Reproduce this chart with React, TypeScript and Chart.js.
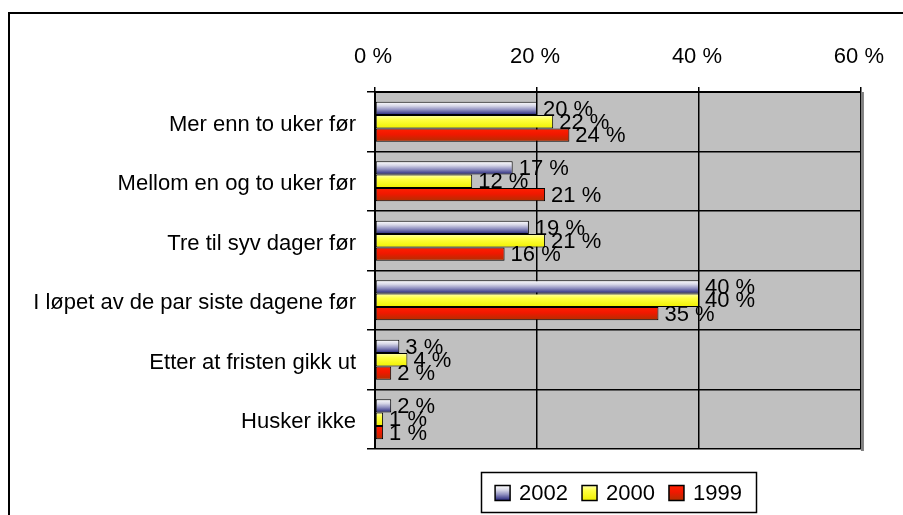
import React, { useEffect, useRef } from "react";
import { Chart, registerables } from "chart.js";

Chart.register(...registerables);

const categories = [
  "Mer enn to uker før",
  "Mellom en og to uker før",
  "Tre til syv dager før",
  "I løpet av de par siste dagene før",
  "Etter at fristen gikk ut",
  "Husker ikke",
];
const seriesNames = ["2002", "2000", "1999"];
const values2002 = [20, 17, 19, 40, 3, 2];
const values2000 = [22, 12, 21, 40, 4, 1];
const values1999 = [24, 21, 16, 35, 2, 1];
const xTicks = [0, 20, 40, 60];

const FONT = "'Liberation Sans', Arial, sans-serif";
const CAT_PCT = 0.67;

const gradStops: [number, string][][] = [
  [
    [0, "#ffffff"],
    [0.3, "#d8d8e8"],
    [0.6, "#9090c0"],
    [1, "#202078"],
  ],
  [
    [0, "#ffffb0"],
    [0.35, "#ffff40"],
    [1, "#f0f000"],
  ],
  [
    [0, "#ff2000"],
    [0.45, "#f01800"],
    [1, "#b03000"],
  ],
];

function makeGrad(ctx: CanvasRenderingContext2D, di: number, y0: number, y1: number) {
  const g = ctx.createLinearGradient(0, y0, 0, y1);
  for (const [o, c] of gradStops[di]) g.addColorStop(o, c);
  return g;
}

export default function App() {
  const ref = useRef<HTMLCanvasElement>(null);
  useEffect(() => {
    if (!ref.current) return;
    const bg = (c: any) => {
      const chart = c.chart;
      const area = chart.chartArea;
      const di = c.datasetIndex;
      if (!area || c.dataIndex === undefined) return gradStops[di][1][1];
      const center = chart.scales.y.getPixelForValue(c.dataIndex);
      const cat = (area.bottom - area.top) / categories.length;
      const group = cat * CAT_PCT;
      const h = group / 3;
      const top = center - group / 2 + di * h;
      return makeGrad(chart.ctx, di, top, top + h);
    };

    const plugin = {
      id: "custom",
      beforeDraw(chart: any) {
        const { ctx, chartArea: a } = chart;
        ctx.save();
        ctx.fillStyle = "#ffffff";
        ctx.fillRect(0, 0, chart.width, chart.height);
        ctx.strokeStyle = "#000";
        ctx.lineWidth = 2;
        ctx.strokeRect(9, 13, chart.width + 20, chart.height + 20);
        ctx.fillStyle = "#c0c0c0";
        ctx.fillRect(a.left, a.top, a.right - a.left, a.bottom - a.top);
        ctx.restore();
      },
      afterDatasetsDraw(chart: any) {
        const { ctx, chartArea: a } = chart;
        ctx.save();
        ctx.fillStyle = "#808080";
        ctx.fillRect(a.right, a.top, 3, a.bottom - a.top + 2);
        ctx.font = `22px ${FONT}`;
        ctx.fillStyle = "#000";
        ctx.textAlign = "left";
        ctx.textBaseline = "middle";
        chart.data.datasets.forEach((ds: any, di: number) => {
          const meta = chart.getDatasetMeta(di);
          meta.data.forEach((el: any, i: number) => {
            ctx.fillText(`${ds.data[i]} %`, el.x + 6, el.y + 1);
          });
        });
        ctx.restore();
      },
      afterDraw(chart: any) {
        const { ctx } = chart;
        ctx.save();
        const bx = 481, by = 472, bw = 275, bh = 40;
        ctx.fillStyle = "#fff";
        ctx.fillRect(bx, by, bw, bh);
        ctx.strokeStyle = "#000";
        ctx.lineWidth = 1.5;
        ctx.strokeRect(bx + 0.5, by + 0.5, bw, bh);
        ctx.font = `22px ${FONT}`;
        ctx.textBaseline = "middle";
        ctx.textAlign = "left";
        const sw = 15, gap = 9, itemGap = 14;
        const widths = seriesNames.map((s) => ctx.measureText(s).width);
        const total = widths.reduce((s, w) => s + sw + gap + w, 0) + itemGap * (seriesNames.length - 1);
        let x = bx + (bw - total) / 2;
        const cy = by + bh / 2 + 1;
        seriesNames.forEach((s, i) => {
          const y0 = cy - sw / 2;
          ctx.fillStyle = makeGrad(ctx, i, y0, y0 + sw);
          ctx.fillRect(x, y0, sw, sw);
          ctx.strokeStyle = "#000";
          ctx.lineWidth = 1.5;
          ctx.strokeRect(x, y0, sw, sw);
          ctx.fillStyle = "#000";
          ctx.fillText(s, x + sw + gap, cy + 1);
          x += sw + gap + widths[i] + itemGap;
        });
        ctx.restore();
      },
    };

    const mk = (label: string, data: number[]) => ({
      label,
      data,
      backgroundColor: bg,
      borderColor: "#000",
      borderWidth: 1,
      borderSkipped: false,
      categoryPercentage: CAT_PCT,
      barPercentage: 1,
    });

    const chart = new Chart(ref.current, {
      type: "bar",
      data: {
        labels: categories,
        datasets: [
          mk(seriesNames[0], values2002),
          mk(seriesNames[1], values2000),
          mk(seriesNames[2], values1999),
        ],
      },
      options: {
        responsive: false,
        animation: false,
        indexAxis: "y",
        layout: { padding: { left: 0, right: 40, top: 20, bottom: 66 } },
        plugins: { legend: { display: false }, tooltip: { enabled: false } },
        scales: {
          x: {
            position: "top",
            min: 0,
            max: 60,
            afterBuildTicks: (s: any) => {
              s.ticks = xTicks.map((v) => ({ value: v }));
            },
            afterFit: (s: any) => {
              s.height = 72;
            },
            ticks: {
              callback: (v: any) => `${v} %`,
              font: { family: FONT, size: 22 },
              color: "#000",
              padding: 17,
              labelOffset: -2,
              maxRotation: 0,
            },
            grid: { color: "#000", lineWidth: 1.5, tickLength: 5 },
            border: { color: "#000", width: 2 },
          },
          y: {
            afterFit: (s: any) => {
              s.width = 375;
            },
            ticks: {
              font: { family: FONT, size: 22 },
              color: "#000",
              padding: 11,
              labelOffset: 3,
              autoSkip: false,
            },
            grid: { color: "#000", lineWidth: 1.5, tickLength: 8, offset: true },
            border: { color: "#000", width: 2 },
          },
        },
      },
      plugins: [plugin],
    } as any);
    return () => chart.destroy();
  }, []);
  return (
    <div style={{ position: "absolute", left: 0, top: 0, width: 903, height: 515 }}>
      <canvas ref={ref} width={903} height={515} style={{ display: "block" }} />
    </div>
  );
}
